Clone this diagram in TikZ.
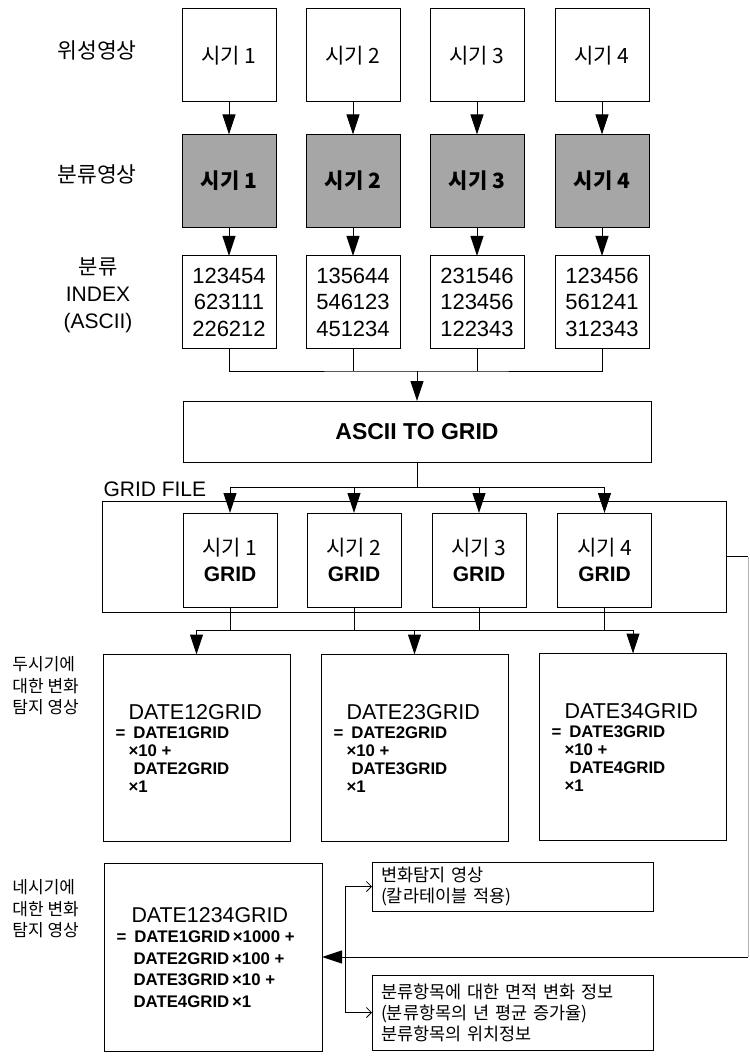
\documentclass[tikz,border=0pt]{standalone}
\usepackage{fontspec}
\setmainfont{Liberation Sans}
\newfontfamily\kr{Noto Sans CJK KR}
\usetikzlibrary{arrows.meta,positioning}
\newcommand{\fsz}[2]{\fontsize{#1}{#2}\selectfont}

\tikzset{
  solidarrow/.style={-{Triangle[length=20pt,width=13pt]}},
  openarrow/.style={-{Straight Barb[length=5pt,width=10pt,line width=0.8pt]}},
  imgbox/.style={draw,inner sep=0pt,outer sep=0pt,minimum width=94pt,minimum height=93pt,align=center},
  clsbox/.style={imgbox,fill=black!35},
  datebox/.style={draw,inner sep=0pt,outer sep=0pt,minimum width=187pt,minimum height=187pt},
  infobox/.style={draw,outer sep=0pt,inner xsep=9pt,inner ysep=0pt,text width=263pt,align=left,font=\kr\fsz{17.5}{21}},
  rowlabel/.style={inner sep=0pt,anchor=west,align=left,font=\kr\fsz{17}{21.5}},
  txt/.style={inner sep=0pt,anchor=west},
  formula/.style={txt,font=\bfseries\fsz{16.8}{18}},
}

\begin{document}
\begin{tikzpicture}[x=1pt,y=-1pt,line width=1pt,font=\fsz{21}{25}]
\useasboundingbox (0,0) rectangle (749,1056);
% row labels
\node[inner sep=0pt,font=\kr\fsz{21.5}{25}] (lbsat) at (97,50) {위성영상};
\node[inner sep=0pt,font=\kr\fsz{21.5}{25}] (lbcls) at (97,174) {분류영상};
\node[inner sep=0pt,align=center,font=\fsz{21}{27}] (lbidx) at (98,295) {{\kr 분류}\\INDEX\\(ASCII)};
\node[rowlabel] (lbtwo) at (12,686) {두시기에\\대한 변화\\탐지 영상};
\node[rowlabel] (lbfour) at (12,909) {네시기에\\대한 변화\\탐지 영상};
% satellite images
\node[imgbox] (sat1) at (229,55.5) {\kr 시기 1};
\node[imgbox] (sat2) at (353,55.5) {\kr 시기 2};
\node[imgbox] (sat3) at (477,55.5) {\kr 시기 3};
\node[imgbox] (sat4) at (602,55.5) {\kr 시기 4};
% classified images
\node[clsbox] (cls1) at (229,181) {\kr\bfseries 시기 1};
\node[clsbox] (cls2) at (353,181) {\kr\bfseries 시기 2};
\node[clsbox] (cls3) at (477,181) {\kr\bfseries 시기 3};
\node[clsbox] (cls4) at (602,181) {\kr\bfseries 시기 4};
% ascii index
\node[imgbox,minimum height=92pt,font=\fsz{22}{26.5}] (idx1) at (229,302) {123454\\623111\\226212};
\node[imgbox,minimum height=92pt,font=\fsz{22}{26.5}] (idx2) at (353,302) {135644\\546123\\451234};
\node[imgbox,minimum height=92pt,font=\fsz{22}{26.5}] (idx3) at (477,302) {231546\\123456\\122343};
\node[imgbox,minimum height=92pt,font=\fsz{22}{26.5}] (idx4) at (602,302) {123456\\561241\\312343};
% conversion
\node[draw,inner sep=0pt,outer sep=0pt,minimum width=468pt,minimum height=61pt,font=\bfseries\fsz{23}{27}] (a2g) at (417,431.5) {ASCII TO GRID};
\node[draw,inner sep=0pt,outer sep=0pt,minimum width=624pt,minimum height=111pt] (gfile) at (414,556.5) {};
\node[inner sep=0pt,anchor=base west] (gflabel) at (103,496) {GRID FILE};
\node[imgbox,minimum height=94pt,font=\fsz{21}{26}] (grid1) at (230,560) {{\kr 시기 1}\\\textbf{GRID}};
\node[imgbox,minimum height=94pt,font=\fsz{21}{26}] (grid2) at (354,560) {{\kr 시기 2}\\\textbf{GRID}};
\node[imgbox,minimum height=94pt,font=\fsz{21}{26}] (grid3) at (479,560) {{\kr 시기 3}\\\textbf{GRID}};
\node[imgbox,minimum height=94pt,font=\fsz{21}{26}] (grid4) at (604.5,560) {{\kr 시기 4}\\\textbf{GRID}};
% two-date change grids
\node[datebox] (d12) at (196.5,748) {};
\node[datebox] (d23) at (414.5,748) {};
\node[datebox] (d34) at (633,747) {};
\node[txt,font=\fsz{21.5}{25}] (d12n) at (128,712) {DATE12GRID};
\node[formula] (d12a) at (115,733) {=\hspace{8pt}DATE1GRID};
\node[formula] (d12b) at (128,751) {×10 +};
\node[formula] (d12c) at (133,769) {DATE2GRID};
\node[formula] (d12d) at (128,787) {×1};
\node[txt,font=\fsz{21.5}{25}] (d23n) at (346,712) {DATE23GRID};
\node[formula] (d23a) at (333,733) {=\hspace{8pt}DATE2GRID};
\node[formula] (d23b) at (346,751) {×10 +};
\node[formula] (d23c) at (351,769) {DATE3GRID};
\node[formula] (d23d) at (346,787) {×1};
\node[txt,font=\fsz{21.5}{25}] (d34n) at (564,711) {DATE34GRID};
\node[formula] (d34a) at (551,732) {=\hspace{8pt}DATE3GRID};
\node[formula] (d34b) at (564,750) {×10 +};
\node[formula] (d34c) at (569,768) {DATE4GRID};
\node[formula] (d34d) at (564,786) {×1};
% four-date change grid
\node[datebox,minimum width=218pt,minimum height=188pt] (d1234) at (213,957) {};
\node[txt,font=\fsz{21.4}{25}] (d1234n) at (131,915) {DATE1234GRID};
\node[formula] (d1234a) at (116,937) {=\hspace{8pt}DATE1GRID\,×1000 +};
\node[formula] (d1234b) at (133,959) {DATE2GRID\,×100 +};
\node[formula] (d1234c) at (133,980) {DATE3GRID\,×10 +};
\node[formula] (d1234d) at (133,1002) {DATE4GRID\,×1};
% outputs
\node[infobox,minimum height=49pt] (info1) at (512.5,886.5) {변화탐지 영상\\(칼라테이블 적용)};
\node[infobox,minimum height=75pt] (info2) at (512.5,1012.5) {분류항목에 대한 면적 변화 정보\\(분류항목의 년 평균 증가율)\\분류항목의 위치정보};
% connectors
\draw[solidarrow] (sat1) -- (cls1);
\draw[solidarrow] (sat2) -- (cls2);
\draw[solidarrow] (sat3) -- (cls3);
\draw[solidarrow] (sat4) -- (cls4);
\draw[solidarrow] (cls1) -- (idx1);
\draw[solidarrow] (cls2) -- (idx2);
\draw[solidarrow] (cls3) -- (idx3);
\draw[solidarrow] (cls4) -- (idx4);
\coordinate (merge) at (417,371);
\draw (idx1) |- (merge) -| (idx4);
\draw (idx2) -- (idx2 |- merge);
\draw (idx3) -- (idx3 |- merge);
\draw[solidarrow] (merge) -- (a2g);
\coordinate (split) at (417,487);
\draw (a2g) -- (split);
\draw[solidarrow] (split) -| (grid1);
\draw[solidarrow] (split) -| (grid4);
\draw[solidarrow] (grid2 |- split) -- (grid2);
\draw[solidarrow] (grid3 |- split) -- (grid3);
\coordinate (join) at (414.5,630);
\draw (grid1) -- (grid1 |- join);
\draw (grid2) -- (grid2 |- join);
\draw (grid3) -- (grid3 |- join);
\draw (grid4) -- (grid4 |- join);
\draw (d12 |- join) -- (d34 |- join);
\draw[solidarrow] (d12 |- join) -- (d12);
\draw[solidarrow] (d23 |- join) -- (d23);
\draw[solidarrow] (d34 |- join) -- (d34);
\coordinate (fbtop) at (748,556.5);
\coordinate (fbbot) at (748,957);
\draw (gfile) -- (fbtop);
\draw[black!30,line width=0.6pt] (fbtop) -- (fbbot);
\draw[solidarrow] (fbbot) -- (d1234);
\coordinate (branch) at (345,957);
\draw[openarrow] (branch) |- (info1);
\draw[openarrow] (branch) |- (info2);
\end{tikzpicture}
\end{document}
